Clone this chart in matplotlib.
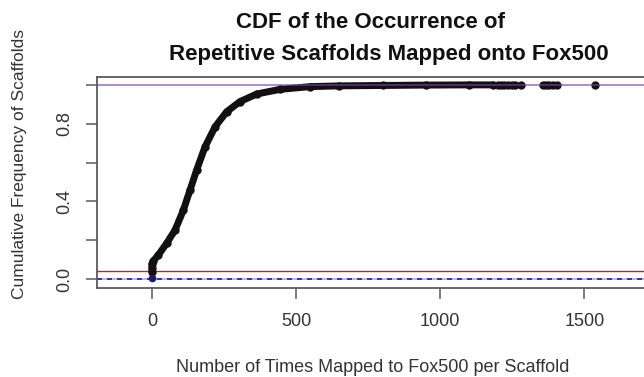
import matplotlib
matplotlib.use("Agg")
import matplotlib.pyplot as plt

# CDF curve (times mapped -> cumulative frequency)
cdf_x = [0, 0, 0, 5, 22, 51, 80, 109, 132, 155, 184, 219, 259, 305, 363, 444,
         548, 650, 800, 950, 1100, 1183]
cdf_y = [0.04, 0.06, 0.08, 0.095, 0.125, 0.185, 0.253, 0.356, 0.459, 0.562,
         0.681, 0.784, 0.861, 0.913, 0.952, 0.976, 0.990, 0.994, 0.996,
         0.998, 0.999, 0.999]

# isolated scaffolds in the right tail
tail_x = [1200, 1210, 1222, 1235, 1248, 1259, 1280, 1356, 1366, 1378, 1392,
          1405, 1537]
tail_y = [0.999, 0.999, 0.999, 0.9995, 0.9995, 0.9995, 0.9996, 0.9997,
          0.9997, 0.9998, 0.9998, 0.9999, 1.0]

# reference lines
h_top = 1.0
h_red = 0.045
h_blue = 0.0

x_ticks = [0, 500, 1000, 1500]
y_ticks = [0.0, 0.2, 0.4, 0.6, 0.8, 1.0]
y_labels = ["0.0", "", "0.4", "", "0.8", ""]

plt.rcParams['font.family'] = ['Liberation Sans', 'DejaVu Sans']

W, H = 644, 377
fig = plt.figure(figsize=(W / 100, H / 100), dpi=100)

# plot region is cropped on the right in the original
left_px, right_px, top_px, bot_px = 96.5, 708, 76.7, 287.7
ax = fig.add_axes([left_px / W, 1 - bot_px / H,
                   (right_px - left_px) / W, (bot_px - top_px) / H])

x0 = -192.5
x1 = x0 + (right_px - left_px) / 0.28827
ax.set_xlim(x0, x1)
ax.set_ylim(-0.0432, 1.0411)

ax.plot(cdf_x, cdf_y, color='#111111', lw=5, solid_capstyle='round',
        marker='o', ms=5, zorder=3)
ax.plot(tail_x, tail_y, 'o', color='#111111', ms=5, zorder=3)
ax.plot([0], [0.005], 'o', color='#1a1a70', ms=4.5, zorder=4)

ax.axhline(h_top, color='#7a3fb0', alpha=0.65, lw=1.3, zorder=5)
ax.axhline(h_red, color='#cc2020', lw=1.0, zorder=2)
ax.axhline(h_blue, color='#a8a8ee', lw=1.2, zorder=2)
ax.axhline(h_blue, color='#1e1ea0', lw=1.2, ls=(0, (3, 3)), zorder=2)

for s in ax.spines.values():
    s.set_color('#5a5a5a')
    s.set_linewidth(1.3)

ax.set_xticks(x_ticks)
ax.set_xticklabels([str(v) for v in x_ticks])
ax.set_yticks(y_ticks)
ax.set_yticklabels(y_labels, rotation=90, va='center')
ax.tick_params(axis='both', colors='#5a5a5a', length=8, width=1.1,
               labelsize=13, labelcolor='#333333')
ax.tick_params(axis='x', pad=10)
ax.tick_params(axis='y', pad=9)

fig.text(370.5 / W, 1 - 28 / H, "CDF of the Occurrence of", ha='center',
         va='baseline', fontsize=16, fontweight='bold', color='#111111')
fig.text(389 / W, 1 - 60 / H, "Repetitive Scaffolds Mapped onto Fox500",
         ha='center', va='baseline', fontsize=16, fontweight='bold',
         color='#111111')
fig.text(373 / W, 1 - 372 / H, "Number of Times Mapped to Fox500 per Scaffold",
         ha='center', va='baseline', fontsize=13, color='#333333')
fig.text(20 / W, 1 - 164 / H, "Cumulative Frequency of Scaffolds",
         ha='center', va='center', rotation=90, fontsize=12.5, color='#333333')

fig.savefig("out.png", dpi=100, facecolor='white')
